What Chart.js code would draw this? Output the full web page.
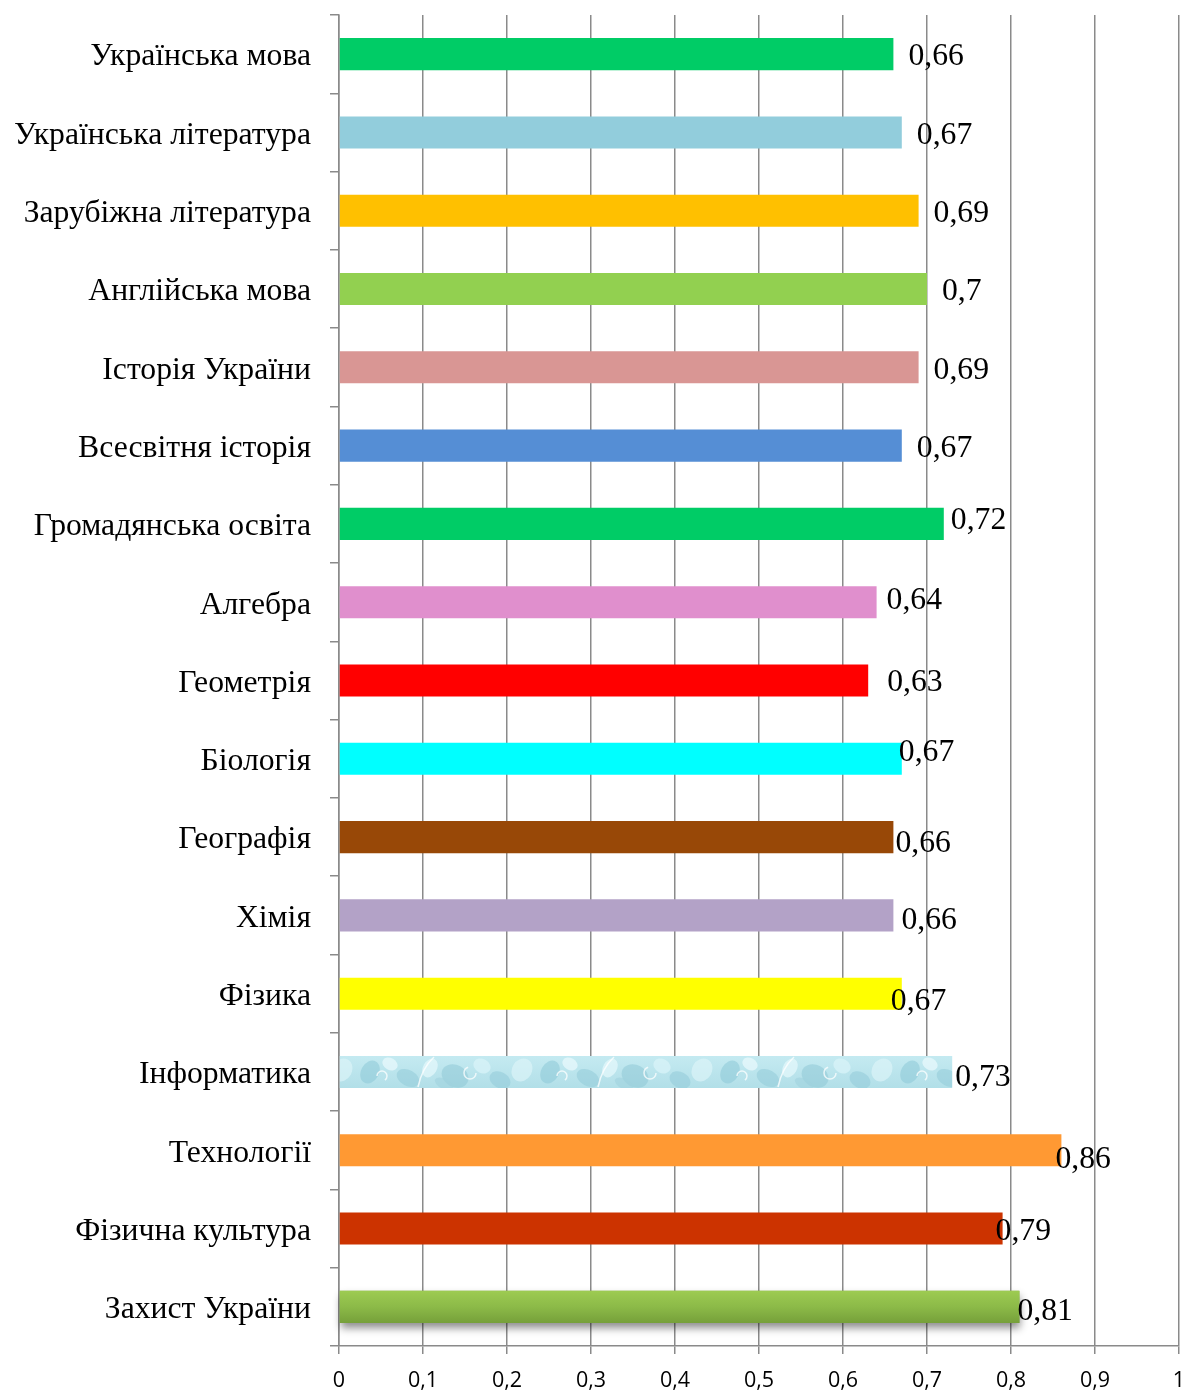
<!DOCTYPE html>
<html>
<head>
<meta charset="utf-8">
<script src="https://cdn.jsdelivr.net/npm/chart.js@4"></script>
<style>
html,body{margin:0;padding:0;background:#fff;}
#wrap{width:1184px;height:1392px;position:relative;}
</style>
</head>
<body>
<div id="wrap"><canvas id="c" width="1184" height="1392"></canvas></div>
<script>
const categories = [
  "Українська мова","Українська література","Зарубіжна література","Англійська мова",
  "Історія України","Всесвітня історія","Громадянська освіта","Алгебра","Геометрія",
  "Біологія","Географія","Хімія","Фізика","Інформатика","Технології",
  "Фізична культура","Захист України"
];
const values = [0.66,0.67,0.69,0.70,0.69,0.67,0.72,0.64,0.63,0.67,0.66,0.66,0.67,0.73,0.86,0.79,0.81];
const xTicks = [0,0.1,0.2,0.3,0.4,0.5,0.6,0.7,0.8,0.9,1];

// pattern for "Інформатика"
function makePattern(){
  const pc = document.createElement('canvas');
  pc.width = 180; pc.height = 32;
  const p = pc.getContext('2d');
  const g = p.createLinearGradient(0,0,0,32);
  g.addColorStop(0,'#C4EAF1'); g.addColorStop(1,'#B2DFE8');
  p.fillStyle = g; p.fillRect(0,0,180,32);
  const blobs = [[10,16,9,12,'rgba(140,200,215,0.55)'],[30,8,8,6,'rgba(230,248,251,0.8)'],[48,22,12,8,'rgba(150,205,218,0.6)'],
                 [70,12,7,10,'rgba(225,246,250,0.8)'],[95,20,14,11,'rgba(140,198,212,0.5)'],[122,10,9,7,'rgba(215,242,247,0.8)'],
                 [140,24,11,8,'rgba(145,202,216,0.55)'],[162,14,10,12,'rgba(220,244,248,0.7)'],[84,28,10,5,'rgba(160,210,222,0.6)']];
  blobs.forEach(b=>{p.fillStyle=b[4];p.beginPath();p.ellipse(b[0],b[1],b[2],b[3],0.5,0,Math.PI*2);p.fill();});
  p.strokeStyle='rgba(255,255,255,0.75)'; p.lineWidth=1.5;
  p.beginPath(); p.moveTo(58,31); p.quadraticCurveTo(62,12,74,1); p.stroke();
  p.beginPath(); p.arc(110,17,6,0,Math.PI*1.4); p.stroke();
  p.beginPath(); p.arc(22,20,5,Math.PI,Math.PI*2.3); p.stroke();
  return document.getElementById('c').getContext('2d').createPattern(pc,'repeat');
}
const colors = ['#00CC66','#92CDDC','#FFC000','#92D050','#D99694','#558ED5','#00CC66','#E08FCD',
  '#FF0000','#00FFFF','#984807','#B3A2C7','#FFFF00', makePattern(),'#FF9933','#CC3300','GRADIENT'];
const labelNudge = [[15,3],[15,3],[15,3],[15,3],[15,3],[15,3],[7,-3],[10,-2],[19,2],[-3,-6],[2,7],[8,5],[-11,8],[3,6],[-6,9],[-7,3],[-2,5]];

const labelPlugin = {
  id:'barLabels',
  beforeDatasetsDraw(chart){
    const meta = chart.getDatasetMeta(0);
    const el = meta.data[16];
    if(!el) return;
    const ctx = chart.ctx;
    ctx.save();
    ctx.shadowColor='rgba(0,0,0,0.45)';
    ctx.shadowBlur=8; ctx.shadowOffsetY=5; ctx.shadowOffsetX=1;
    ctx.fillStyle='#7DA640';
    ctx.fillRect(el.base, el.y-el.height/2, el.x-el.base, el.height);
    ctx.restore();
  },
  afterDatasetsDraw(chart){
    const ctx = chart.ctx;
    const meta = chart.getDatasetMeta(0);
    ctx.save();
    ctx.font = '31.7px "Liberation Serif", "Times New Roman", serif';
    ctx.fillStyle = '#000';
    ctx.textBaseline = 'middle';
    ctx.textAlign = 'left';
    meta.data.forEach((el,i)=>{
      const txt = String(values[i]).replace('.',',');
      const n = labelNudge[i];
      ctx.fillText(txt, el.x + n[0], el.y + n[1]);
    });
    ctx.restore();
  }
};

new Chart(document.getElementById('c'), {
  type:'bar',
  data:{
    labels:categories,
    datasets:[{
      data:values,
      backgroundColor:(c)=>{
        const col = colors[c.dataIndex];
        if(col!=='GRADIENT') return col;
        const ch=c.chart, ys=ch.scales.y;
        if(!ys || !ch.chartArea) return '#8DB84A';
        const y=ys.getPixelForValue(c.dataIndex);
        const g=ch.ctx.createLinearGradient(0,y-16,0,y+16);
        g.addColorStop(0,'#9DCB52'); g.addColorStop(0.5,'#8CBA48'); g.addColorStop(1,'#76A03A');
        return g;
      },
      borderWidth:0,
      barPercentage:0.41,
      categoryPercentage:1
    }]
  },
  options:{
    indexAxis:'y',
    responsive:false,
    animation:false,
    devicePixelRatio:1,
    layout:{padding:{top:15,right:5,left:0,bottom:0}},
    plugins:{legend:{display:false},tooltip:{enabled:false}},
    scales:{
      x:{
        min:0,max:1,
        afterBuildTicks:(s)=>{s.ticks = xTicks.map(v=>({value:v}));},
        afterFit:(s)=>{s.height=46; s.paddingLeft=0; s.paddingRight=0;},
        ticks:{
          font:{family:'"Open Sans", "Liberation Sans", sans-serif',size:21.5},
          color:'#000',
          padding:14,
          maxRotation:0,
          callback:(v)=>String(v).replace('.',',')
        },
        grid:{color:'#8A8A8A',lineWidth:1.5,tickLength:8,drawTicks:true},
        border:{color:'#8A8A8A',width:1.5}
      },
      y:{
        afterFit:(s)=>{s.width=339; s.paddingTop=0; s.paddingBottom=0;},
        ticks:{
          font:{family:'"Liberation Serif", "Times New Roman", serif',size:31.7},
          color:'#000',
          padding:19,
          labelOffset:3,
          autoSkip:false
        },
        grid:{drawOnChartArea:false,color:'#8A8A8A',lineWidth:1.5,tickLength:9,offset:true},
        border:{color:'#8A8A8A',width:1.5}
      }
    }
  },
  plugins:[labelPlugin]
});
</script>
</body>
</html>
